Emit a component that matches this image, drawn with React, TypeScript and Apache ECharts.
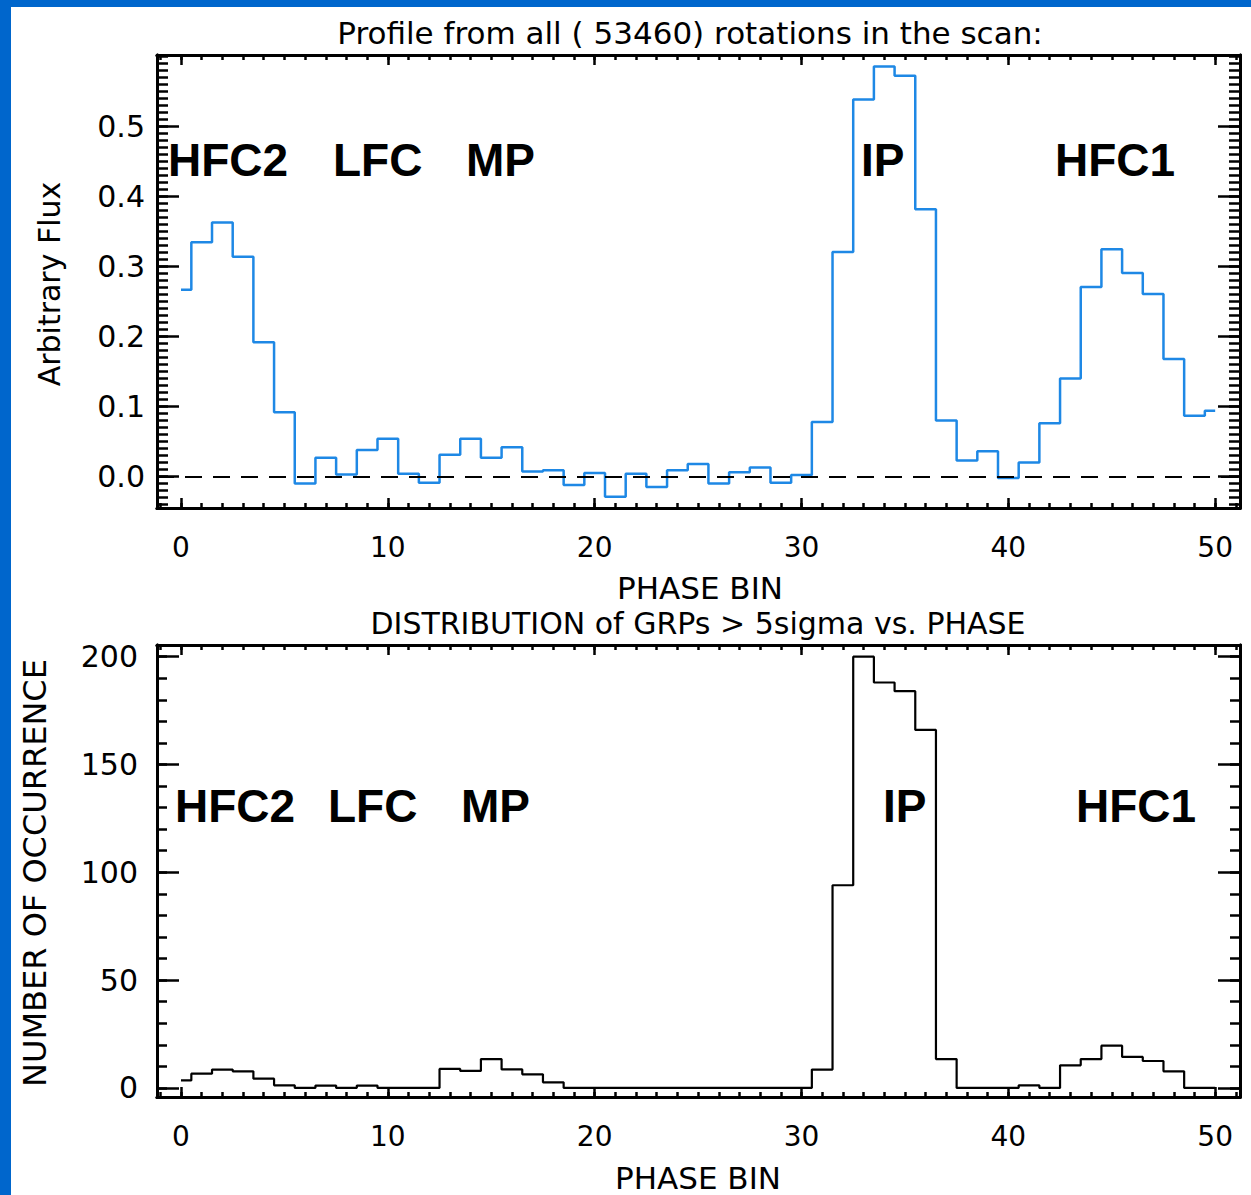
import React, { useEffect, useRef } from "react";
import * as echarts from "echarts";

// ---------- data ----------
const phaseBins = [
  0, 1, 2, 3, 4, 5, 6, 7, 8, 9, 10, 11, 12, 13, 14, 15, 16, 17, 18, 19, 20, 21, 22, 23, 24, 25,
  26, 27, 28, 29, 30, 31, 32, 33, 34, 35, 36, 37, 38, 39, 40, 41, 42, 43, 44, 45, 46, 47, 48, 49, 50,
];

const fluxValues = [
  0.267, 0.335, 0.363, 0.314, 0.192, 0.092, -0.01, 0.027, 0.003, 0.038, 0.054, 0.004, -0.009,
  0.031, 0.054, 0.027, 0.042, 0.007, 0.009, -0.012, 0.005, -0.029, 0.004, -0.015, 0.009, 0.018,
  -0.01, 0.006, 0.013, -0.009, 0.002, 0.078, 0.321, 0.539, 0.586, 0.573, 0.382, 0.08, 0.023,
  0.036, -0.002, 0.02, 0.076, 0.14, 0.271, 0.325, 0.291, 0.261, 0.168, 0.087, 0.094,
];

const grpCounts = [
  3.5, 6.6, 8.5, 7.7, 4.3, 1.2, 0, 1.1, 0, 1.1, 0, 0, 0, 8.8, 7.9, 13.4, 8.6, 6.3, 2.6, 0, 0, 0,
  0, 0, 0, 0, 0, 0, 0, 0, 0, 8.5, 94, 200, 188, 184, 166, 13.4, 0, 0, 0, 1.2, 0, 10.5, 13.4,
  19.6, 14.4, 12.5, 7.7, 0, 0,
];

const xMajorTicks = [0, 10, 20, 30, 40, 50];
const fluxMajorTicks = [0, 0.1, 0.2, 0.3, 0.4, 0.5];
const countMajorTicks = [0, 50, 100, 150, 200];

const topTitle = "Profile from all ( 53460) rotations in the scan:";
const bottomTitle = "DISTRIBUTION of GRPs > 5sigma vs. PHASE";
const xName = "PHASE BIN";
const fluxName = "Arbitrary Flux";
const countName = "NUMBER OF OCCURRENCE";
const componentLabels = ["HFC2", "LFC", "MP", "IP", "HFC1"];

// ---------- helpers ----------
function range(from: number, to: number, step: number) {
  const out: number[] = [];
  const n = Math.round((to - from) / step);
  for (let k = 0; k <= n; k++) out.push(+(from + k * step).toFixed(6));
  return out;
}

const X_MIN = -1.16;
const X_MAX = 51.2;
const xMinorTicks = range(-1, 51, 1);
const fluxMinorTicks = range(-0.04, 0.6, 0.01);
const countMinorTicks = range(0, 200, 10);

const FONT = "'DejaVu Sans', sans-serif";
const BOLD = "'Liberation Sans', Arial, sans-serif";

function xAxis(gridIndex: number, position: string, ticks: number[], len: number, labels: boolean) {
  return {
    type: "value",
    gridIndex,
    position,
    min: X_MIN,
    max: X_MAX,
    axisLine: { show: true, onZero: false, lineStyle: { color: "#000", width: 3 } },
    axisTick: {
      show: true,
      inside: true,
      length: len,
      customValues: ticks,
      lineStyle: { color: "#000", width: 2.5 },
    },
    axisLabel: labels
      ? {
          show: true,
          customValues: ticks,
          fontFamily: FONT,
          fontSize: 28,
          color: "#000",
          margin: 25,
          formatter: (v: number) => String(v),
        }
      : { show: false },
    splitLine: { show: false },
  };
}

function yAxis(
  gridIndex: number,
  position: string,
  min: number,
  max: number,
  ticks: number[],
  len: number,
  labels: null | { margin: number; fmt: (v: number) => string }
) {
  return {
    type: "value",
    gridIndex,
    position,
    min,
    max,
    axisLine: { show: true, onZero: false, lineStyle: { color: "#000", width: 3 } },
    axisTick: {
      show: true,
      inside: true,
      length: len,
      customValues: ticks,
      lineStyle: { color: "#000", width: 2.5 },
    },
    axisLabel: labels
      ? {
          show: true,
          customValues: ticks,
          fontFamily: FONT,
          fontSize: 30,
          color: "#000",
          margin: labels.margin,
          formatter: labels.fmt,
        }
      : { show: false },
    splitLine: { show: false },
  };
}

function txt(
  text: string,
  x: number,
  y: number,
  opts: { size: number; family?: string; weight?: string; align?: string; rotation?: number }
) {
  return {
    type: "text",
    x,
    y,
    rotation: opts.rotation || 0,
    silent: true,
    style: {
      text,
      x: 0,
      y: 0,
      fill: "#000",
      fontSize: opts.size,
      fontFamily: opts.family || FONT,
      fontWeight: opts.weight || "normal",
      align: opts.align || "center",
      verticalAlign: "middle",
      textAlign: opts.align || "center",
      textVerticalAlign: "middle",
    },
  };
}

export default function App() {
  const ref = useRef<HTMLDivElement>(null);

  useEffect(() => {
    if (!ref.current) return;
    const chart = echarts.init(ref.current, null, { renderer: "svg" });

    const topLabelX = [168, 333, 466, 861, 1055];
    const botLabelX = [175, 328, 461, 883, 1076];

    const option: any = {
      animation: false,
      backgroundColor: "#fff",
      grid: [
        { left: 157, top: 55, width: 1083, height: 453, show: false },
        { left: 157, top: 645, width: 1083, height: 452, show: false },
      ],
      xAxis: [
        xAxis(0, "bottom", xMajorTicks, 10, true),
        xAxis(0, "bottom", xMinorTicks, 5, false),
        xAxis(0, "top", xMajorTicks, 10, false),
        xAxis(0, "top", xMinorTicks, 5, false),
        xAxis(1, "bottom", xMajorTicks, 10, true),
        xAxis(1, "bottom", xMinorTicks, 5, false),
        xAxis(1, "top", xMajorTicks, 10, false),
        xAxis(1, "top", xMinorTicks, 5, false),
      ],
      yAxis: [
        yAxis(0, "left", -0.045, 0.6025, fluxMajorTicks, 22, { margin: 12, fmt: (v) => v.toFixed(1) }),
        yAxis(0, "left", -0.045, 0.6025, fluxMinorTicks, 11, null),
        yAxis(0, "right", -0.045, 0.6025, fluxMajorTicks, 22, null),
        yAxis(0, "right", -0.045, 0.6025, fluxMinorTicks, 11, null),
        yAxis(1, "left", -4.2, 205.4, countMajorTicks, 22, { margin: 19, fmt: (v) => String(v) }),
        yAxis(1, "left", -4.2, 205.4, countMinorTicks, 10, null),
        yAxis(1, "right", -4.2, 205.4, countMajorTicks, 22, null),
        yAxis(1, "right", -4.2, 205.4, countMinorTicks, 10, null),
      ],
      series: [
        {
          type: "line",
          name: "Profile",
          xAxisIndex: 0,
          yAxisIndex: 0,
          step: "middle",
          symbol: "none",
          data: phaseBins.map((b, i) => [b, fluxValues[i]]),
          lineStyle: { color: "#1E88E5", width: 2.5 },
          markLine: {
            silent: true,
            symbol: "none",
            label: { show: false },
            lineStyle: { color: "#000", width: 2, type: [17, 11] },
            data: [{ yAxis: 0 }],
          },
        },
        {
          type: "line",
          name: "GRPs",
          xAxisIndex: 4,
          yAxisIndex: 4,
          step: "middle",
          symbol: "none",
          data: phaseBins.map((b, i) => [b, grpCounts[i]]),
          lineStyle: { color: "#000", width: 2.2 },
        },
      ],
      graphic: [
        { type: "rect", silent: true, shape: { x: 0, y: 0, width: 1251, height: 7 }, style: { fill: "#0066CC" } },
        { type: "rect", silent: true, shape: { x: 0, y: 0, width: 11, height: 1195 }, style: { fill: "#0066CC" } },
        txt(topTitle, 690, 33, { size: 31 }),
        txt(bottomTitle, 698, 623, { size: 30 }),
        txt(xName, 700, 588, { size: 31 }),
        txt(xName, 698, 1178, { size: 31 }),
        txt(fluxName, 49, 284, { size: 30, rotation: Math.PI / 2 }),
        txt(countName, 35, 873, { size: 32, rotation: Math.PI / 2 }),
        ...componentLabels.map((t, i) =>
          txt(t, topLabelX[i], 160, { size: 46, family: BOLD, weight: "bold", align: "left" })
        ),
        ...componentLabels.map((t, i) =>
          txt(t, botLabelX[i], 806, { size: 46, family: BOLD, weight: "bold", align: "left" })
        ),
      ],
    };

    chart.setOption(option);
    return () => chart.dispose();
  }, []);

  return (
    <div
      ref={ref}
      style={{ position: "absolute", left: 0, top: 0, width: 1251, height: 1195 }}
    />
  );
}
